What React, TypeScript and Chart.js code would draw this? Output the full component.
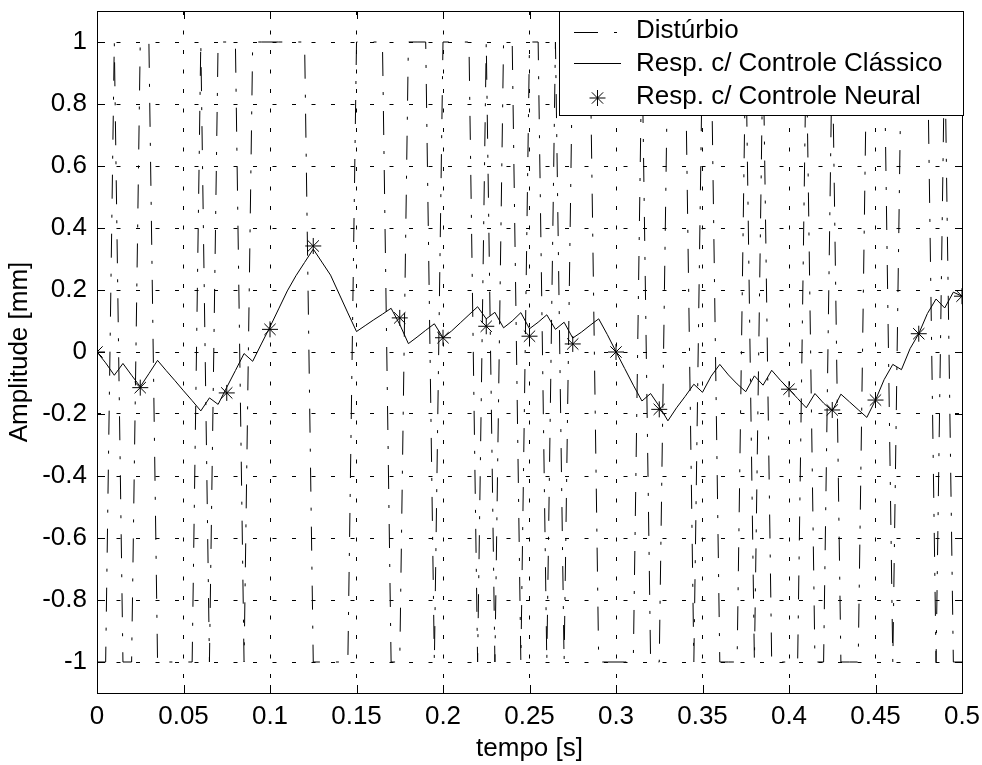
import React, { useEffect, useRef } from "react";
import { Chart, registerables } from "chart.js";

Chart.register(...registerables);

// sample times [s]
const timeS = [
  0, 0.005, 0.01, 0.015, 0.02, 0.025, 0.03, 0.035, 0.04, 0.045,
  0.05, 0.055, 0.06, 0.065, 0.07, 0.075, 0.08, 0.085, 0.09, 0.095,
  0.1, 0.105, 0.11, 0.115, 0.12, 0.125, 0.13, 0.135, 0.14, 0.145,
  0.15, 0.155, 0.16, 0.165, 0.17, 0.175, 0.18, 0.185, 0.19, 0.195,
  0.2, 0.205, 0.21, 0.215, 0.22, 0.225, 0.23, 0.235, 0.24, 0.245,
  0.25, 0.255, 0.26, 0.265, 0.27, 0.275, 0.28, 0.285, 0.29, 0.295,
  0.3, 0.305, 0.31, 0.315, 0.32, 0.325, 0.33, 0.335, 0.34, 0.345,
  0.35, 0.355, 0.36, 0.365, 0.37, 0.375, 0.38, 0.385, 0.39, 0.395,
  0.4, 0.405, 0.41, 0.415, 0.42, 0.425, 0.43, 0.435, 0.44, 0.445,
  0.45, 0.455, 0.46, 0.465, 0.47, 0.475, 0.48, 0.485, 0.49, 0.495,
  0.5,
];

// Distúrbio (binary ±1 sequence)
const disturbance = [
  -1, -1, 1, -1, -1, 1, 1, -1, -1, -1,
  -1, -1, 1, -1, 1, 1, 1, -1, 1, 1,
  1, 1, 1, 1, 1, -1, -1, -1, -1, -1,
  1, 1, 1, 1, -1, -1, 1, 1, 1, -1,
  1, 1, 1, 1, -1, 1, -1, 1, 1, -1,
  1, 1, -1, 1, -1, 1, 1, 1, -1, -1,
  -1, -1, -1, 1, -1, -1, 1, 1, 1, -1,
  1, 1, -1, -1, -1, 1, -1, 1, -1, -1,
  -1, -1, 1, -1, -1, 1, -1, -1, -1, 1,
  1, 1, -1, 1, 1, 1, 1, -1, 1, -1,
  -1,
];

// Resp. c/ Controle Clássico
const classicResp = [
  0, -0.035, -0.075, -0.037, -0.075, -0.112, -0.07, -0.027, -0.06, -0.092,
  -0.125, -0.157, -0.19, -0.148, -0.169, -0.114, -0.06, -0.005, -0.03, 0.026,
  0.081, 0.139, 0.197, 0.246, 0.289, 0.332, 0.29, 0.248, 0.187, 0.126,
  0.066, 0.085, 0.104, 0.122, 0.141, 0.089, 0.027, 0.048, 0.07, 0.091,
  0.046, 0.068, 0.094, 0.12, 0.146, 0.107, 0.128, 0.078, 0.1, 0.127,
  0.075, 0.096, 0.12, 0.073, 0.096, 0.045, 0.064, 0.086, 0.107, 0.056,
  0.001, -0.053, -0.107, -0.158, -0.134, -0.175, -0.222, -0.18, -0.143, -0.104,
  -0.13, -0.078, -0.04, -0.074, -0.103, -0.128, -0.077, -0.107, -0.059, -0.091,
  -0.12, -0.15, -0.18, -0.134, -0.165, -0.19, -0.136, -0.161, -0.186, -0.211,
  -0.155, -0.089, -0.04, -0.057, 0.011, 0.059, 0.124, 0.171, 0.142, 0.193,
  0.18,
];

// Resp. c/ Controle Neural (markers)
const neuralT = [0, 0.025, 0.075, 0.1, 0.125, 0.175, 0.2, 0.225, 0.25, 0.275, 0.3, 0.325, 0.4, 0.425, 0.45, 0.475, 0.5];
const neuralResp = [0, -0.115, -0.132, 0.073, 0.342, 0.11, 0.046, 0.083, 0.051, 0.026, 0.0, -0.185, -0.12, -0.187, -0.155, 0.059, 0.18];

const xTicks = [0, 0.05, 0.1, 0.15, 0.2, 0.25, 0.3, 0.35, 0.4, 0.45, 0.5];
const xTickLabels = ["0", "0.05", "0.1", "0.15", "0.2", "0.25", "0.3", "0.35", "0.4", "0.45", "0.5"];
const yTicks = [-1, -0.8, -0.6, -0.4, -0.2, 0, 0.2, 0.4, 0.6, 0.8, 1];
const yTickLabels = ["-1", "-0.8", "-0.6", "-0.4", "-0.2", "0", "0.2", "0.4", "0.6", "0.8", "1"];

const seriesNames = ["Distúrbio", "Resp. c/ Controle Clássico", "Resp. c/ Controle Neural"];
const xTitle = "tempo [s]";
const yTitle = "Amplitude [mm]";

const FONT = "'Liberation Sans', Arial, Helvetica, sans-serif";
const FONT_SIZE = 26;
const DIST_DASH = [24, 16, 3, 16];
const GRID_DASH = [4, 15.5];
const TICK_LEN = 8;

const framePlugin = {
  id: "matlabFrame",
  afterDraw(chart: any) {
    const { ctx, chartArea: a, scales } = chart;
    const L = Math.round(a.left), R = Math.round(a.right), T = Math.round(a.top), B = Math.round(a.bottom);
    ctx.save();
    ctx.setLineDash([]);
    ctx.strokeStyle = "#000";
    ctx.lineWidth = 1;
    // box
    ctx.strokeRect(L + 0.5, T + 0.5, R - L, B - T);
    // inward ticks
    ctx.beginPath();
    for (const v of xTicks) {
      const px = Math.round(scales.x.getPixelForValue(v)) + 0.5;
      ctx.moveTo(px, B);
      ctx.lineTo(px, B - TICK_LEN);
      ctx.moveTo(px, T);
      ctx.lineTo(px, T + TICK_LEN);
    }
    for (const v of yTicks) {
      const py = Math.round(scales.y.getPixelForValue(v)) + 0.5;
      ctx.moveTo(L, py);
      ctx.lineTo(L + TICK_LEN, py);
      ctx.moveTo(R + 1, py);
      ctx.lineTo(R + 1 - TICK_LEN, py);
    }
    ctx.stroke();

    // legend box
    const boxW = 404, boxH = 104;
    const bx = R + 1 - boxW, by = T;
    ctx.fillStyle = "#fff";
    ctx.fillRect(bx, by, boxW, boxH);
    ctx.strokeRect(bx + 0.5, by + 0.5, boxW, boxH);
    const baselines = [by + 27, by + 60, by + 93];
    const sx1 = bx + 15, sx2 = bx + 62, tx = bx + 77;
    // sample 1: dash-dot
    ctx.setLineDash(DIST_DASH);
    ctx.beginPath();
    ctx.moveTo(sx1, baselines[0] - 6 + 0.5);
    ctx.lineTo(sx2, baselines[0] - 6 + 0.5);
    ctx.stroke();
    ctx.setLineDash([]);
    // sample 2: solid
    ctx.beginPath();
    ctx.moveTo(sx1, baselines[1] - 8 + 0.5);
    ctx.lineTo(sx2, baselines[1] - 8 + 0.5);
    ctx.stroke();
    // sample 3: star
    const cx = (sx1 + sx2) / 2, cy = baselines[2] - 6;
    const r = 8, d = r * Math.SQRT1_2;
    ctx.beginPath();
    ctx.moveTo(cx - r, cy); ctx.lineTo(cx + r, cy);
    ctx.moveTo(cx, cy - r); ctx.lineTo(cx, cy + r);
    ctx.moveTo(cx - d, cy - d); ctx.lineTo(cx + d, cy + d);
    ctx.moveTo(cx - d, cy + d); ctx.lineTo(cx + d, cy - d);
    ctx.stroke();
    ctx.fillStyle = "#000";
    ctx.font = `${FONT_SIZE}px ${FONT}`;
    ctx.textAlign = "left";
    ctx.textBaseline = "alphabetic";
    seriesNames.forEach((s, i) => ctx.fillText(s, tx, baselines[i]));
    ctx.restore();
  },
};

export default function App() {
  const ref = useRef<HTMLCanvasElement | null>(null);

  useEffect(() => {
    if (!ref.current) return;
    const distData = timeS.map((t, i) => ({ x: t, y: disturbance[i] }));
    const classicData = timeS.map((t, i) => ({ x: t, y: classicResp[i] }));
    const neuralData = neuralT.map((t, i) => ({ x: t, y: neuralResp[i] }));

    const chart = new Chart(ref.current, {
      type: "line",
      data: {
        datasets: [
          {
            label: seriesNames[0],
            data: distData,
            borderColor: "#000",
            borderWidth: 1,
            borderDash: DIST_DASH,
            pointRadius: 0,
            tension: 0,
            fill: false,
            order: 3,
          },
          {
            label: seriesNames[1],
            data: classicData,
            borderColor: "#000",
            borderWidth: 1,
            pointRadius: 0,
            tension: 0,
            fill: false,
            order: 2,
          },
          {
            label: seriesNames[2],
            data: neuralData,
            showLine: false,
            borderColor: "#000",
            backgroundColor: "#000",
            pointStyle: "star",
            pointRadius: 8,
            pointBorderWidth: 1,
            pointBorderColor: "#000",
            order: 1,
          },
        ],
      },
      options: {
        responsive: false,
        animation: false,
        events: [],
        layout: { padding: { left: 0, right: 20, top: 11, bottom: 0 } },
        plugins: { legend: { display: false }, tooltip: { enabled: false } },
        scales: {
          x: {
            type: "linear",
            min: 0,
            max: 0.5,
            afterBuildTicks: (s: any) => {
              s.ticks = xTicks.map((v) => ({ value: v }));
            },
            afterFit: (s: any) => {
              s.height = 72;
              s.paddingLeft = 0;
              s.paddingRight = 0;
            },
            ticks: {
              autoSkip: false,
              maxRotation: 0,
              padding: 8,
              color: "#000",
              font: { family: FONT, size: FONT_SIZE },
              callback: (_v: any, i: number) => xTickLabels[i],
            },
            grid: { color: "#000", lineWidth: 1, drawTicks: false },
            border: { display: false, dash: GRID_DASH },
            title: {
              display: true,
              text: xTitle,
              color: "#000",
              font: { family: FONT, size: FONT_SIZE },
              padding: { top: 0, bottom: 1 },
            },
          },
          y: {
            type: "linear",
            min: -1.1,
            max: 1.1,
            afterBuildTicks: (s: any) => {
              s.ticks = yTicks.map((v) => ({ value: v }));
            },
            afterFit: (s: any) => {
              s.width = 97;
              s.paddingTop = 0;
              s.paddingBottom = 0;
            },
            ticks: {
              autoSkip: false,
              padding: 10,
              color: "#000",
              font: { family: FONT, size: FONT_SIZE },
              callback: (_v: any, i: number) => yTickLabels[i],
            },
            grid: { color: "#000", lineWidth: 1, drawTicks: false },
            border: { display: false, dash: GRID_DASH },
            title: {
              display: true,
              text: yTitle,
              color: "#000",
              font: { family: FONT, size: FONT_SIZE },
              padding: { top: 4, bottom: 0 },
            },
          },
        },
      },
      plugins: [framePlugin],
    });
    return () => chart.destroy();
  }, []);

  return (
    <div style={{ position: "fixed", left: 0, top: 0, width: 982, height: 765, background: "#fff" }}>
      <canvas ref={ref} width={982} height={765} style={{ display: "block", width: 982, height: 765 }} />
    </div>
  );
}
